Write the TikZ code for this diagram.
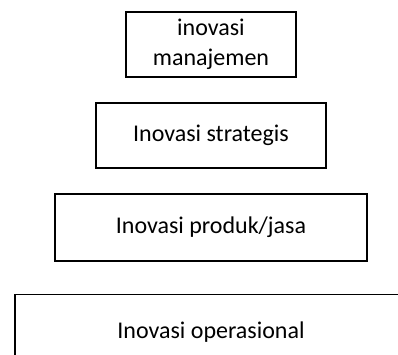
\documentclass[tikz,border=0pt]{standalone}
\usepackage{fontspec}
\setmainfont{Carlito}
\usepackage{tikz}
\usetikzlibrary{positioning}
\tikzset{
    layer/.style={rectangle, draw, line width=1.8pt, minimum height=65pt, align=center, font=\fontsize{24}{30}\selectfont, inner sep=0pt}
}

\begin{document}
\begin{tikzpicture}[x=1pt, y=-1pt]
    \useasboundingbox (0,0) rectangle (398,354);
    \clip (0,0) rectangle (398,354);
    % innovation layers, top to bottom
    \node[layer, minimum width=170pt] (manajemen) at (211,44.5) {inovasi\\manajemen};
    \node[layer, minimum width=230pt, below=24pt of manajemen.south, anchor=north] (strategis) {Inovasi strategis};
    \node[layer, minimum width=312pt, minimum height=67pt, below=24pt of strategis.south, anchor=north] (produk) {Inovasi produk/jasa};
    \node[layer, minimum width=392pt, minimum height=76pt, below=32pt of produk.south, anchor=north] (operasional) {Inovasi operasional};
\end{tikzpicture}
\end{document}
